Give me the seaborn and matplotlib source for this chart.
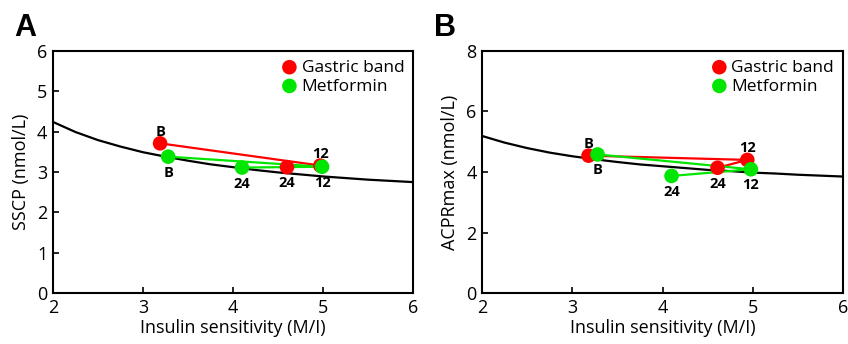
import pandas as pd
import matplotlib.pyplot as plt
import seaborn as sns

# values
stages = ['B', '12', '24']
gb_si = [3.19, 4.97, 4.60]
gb_sscp = [3.71, 3.16, 3.12]
met_si = [3.28, 4.99, 4.10]
met_sscp = [3.38, 3.13, 3.11]

gb_si_b = [3.18, 4.94, 4.61]
gb_acpr = [4.54, 4.40, 4.14]
met_si_b = [3.28, 4.98, 4.10]
met_acpr = [4.58, 4.09, 3.87]

curve_x = [2, 2.25, 2.5, 2.75, 3, 3.25, 3.5, 3.75, 4, 4.25, 4.5, 4.75, 5,
           5.25, 5.5, 5.75, 6]
curve_sscp = [4.24, 3.99, 3.79, 3.63, 3.49, 3.38, 3.28, 3.19, 3.12, 3.05,
              2.99, 2.94, 2.89, 2.85, 2.81, 2.78, 2.75]
curve_acpr = [5.19, 4.97, 4.79, 4.64, 4.52, 4.42, 4.33, 4.25, 4.19, 4.13,
              4.07, 4.03, 3.98, 3.95, 3.91, 3.88, 3.85]

# label offsets (points): above / below
gb_off_a = [8.5, 8.5, -11.5]
met_off_a = [-11.5, -11.5, -11.5]
gb_off_b = [8.5, 8.5, -11.5]
met_off_b = [-11.5, -11.5, -11.5]

sns.set_style('ticks')
plt.rcParams['font.family'] = ['Open Sans', 'DejaVu Sans']
plt.rcParams['text.color'] = 'black'
plt.rcParams['axes.labelcolor'] = 'black'

RED = '#ff0000'
GREEN = '#00e600'

fig = plt.figure(figsize=(8.48, 3.44), dpi=100)
axA = fig.add_axes([0.0625, 0.148, 0.4245, 0.704])
axB = fig.add_axes([0.5685, 0.148, 0.4255, 0.704])


def draw(ax, cy, gx, gy, mx, my, goff, moff, ymax, ylabel):
    sns.lineplot(x=curve_x, y=cy, ax=ax, color='black', lw=1.6, sort=False)
    for xs, ys, col, name, offs in [(gx, gy, RED, 'Gastric band', goff),
                                    (mx, my, GREEN, 'Metformin', moff)]:
        df = pd.DataFrame({'si': xs, 'v': ys, 'stage': stages})
        sns.lineplot(data=df, x='si', y='v', ax=ax, color=col, lw=1.6, sort=False)
        sns.scatterplot(data=df, x='si', y='v', ax=ax, color=col, s=110,
                        edgecolor='none', label=name, zorder=5)
        for x, y, s, o in zip(xs, ys, stages, offs):
            ax.annotate(s, (x, y), xytext=(0, o), textcoords='offset points',
                        ha='center', va='center', fontsize=10.5,
                        fontweight='bold', color='black', zorder=6)
    ax.set_xlim(2, 6)
    ax.set_ylim(0, ymax)
    ax.set_xticks([2, 3, 4, 5, 6])
    ax.set_xlabel('Insulin sensitivity (M/I)', fontsize=13, labelpad=2)
    ax.set_ylabel(ylabel, fontsize=13, labelpad=5)
    ax.tick_params(direction='in', labelsize=13, length=4, width=1.2,
                   colors='black')
    ax.tick_params(axis='x', pad=4)
    ax.tick_params(axis='y', pad=4)
    for sp in ax.spines.values():
        sp.set_linewidth(1.5)
        sp.set_color('black')
    ax.legend(loc='upper right', frameon=False, fontsize=12.5,
              handletextpad=-0.3, borderaxespad=0.1, labelspacing=0.15,
              markerscale=1.0)


draw(axA, curve_sscp, gb_si, gb_sscp, met_si, met_sscp, gb_off_a, met_off_a,
     6, 'SSCP (nmol/L)')
axA.set_yticks(range(0, 7))
draw(axB, curve_acpr, gb_si_b, gb_acpr, met_si_b, met_acpr, gb_off_b, met_off_b,
     8, 'ACPRmax (nmol/L)')
axB.set_yticks([0, 2, 4, 6, 8])

fig.text(0.03, 0.92, 'A', fontsize=22, fontweight='bold',
         family='Liberation Sans', ha='center', va='center')
fig.text(0.525, 0.92, 'B', fontsize=22, fontweight='bold',
         family='Liberation Sans', ha='center', va='center')

plt.savefig('out.png', dpi=100)
